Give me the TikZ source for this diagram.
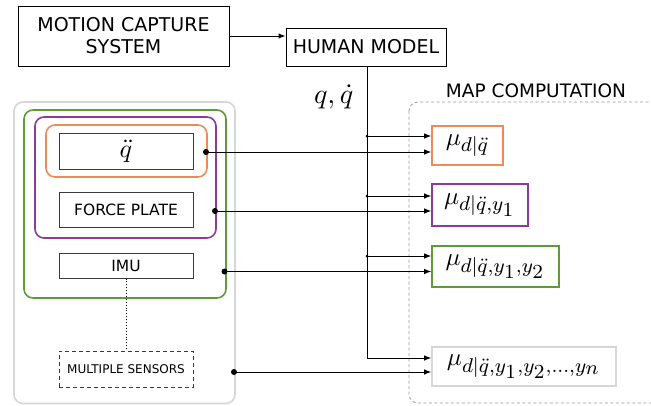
\documentclass[tikz,border=0pt]{standalone}
\usepackage[no-math]{fontspec}
\setmainfont{DejaVu Sans}
\usetikzlibrary{arrows.meta}
% sub- and superscripts of the estimate labels stay at 8pt
\DeclareMathSizes{10}{10}{8}{8}

\newcommand{\mulabel}[1]{\scalebox{2.5}{$#1$}}

\definecolor{cOrange}{HTML}{EE8A55}
\definecolor{cPurple}{HTML}{8C3A9B}
\definecolor{cGreen}{HTML}{5E9A35}
\definecolor{cGrey}{HTML}{D6D6D6}
\definecolor{cEdge}{HTML}{3A3A3A}
\definecolor{cDash}{HTML}{9A9A9A}

\tikzset{
  block/.style={draw=black, line width=1pt, inner sep=0pt, align=center,
                font=\fontsize{19}{22}\selectfont},
  sensor/.style={draw=cEdge, line width=1pt, inner sep=0pt, align=center,
                 minimum width=134pt, font=\fontsize{15.5}{18}\selectfont},
  group/.style={rounded corners=9pt, line width=1.6pt, inner sep=0pt},
  mubox/.style={draw, line width=1.6pt, inner sep=0pt,
                font=\fontsize{10}{12}\selectfont},
  tip/.style={-{Latex[length=7pt,width=5.5pt]}, line width=1pt},
  bigdot/.style={circle, fill=black, inner sep=0pt, minimum size=6pt},
  smalldot/.style={circle, fill=black, inner sep=0pt, minimum size=3pt},
}

\begin{document}
\begin{tikzpicture}[x=1pt, y=-1pt]
\useasboundingbox (0,0) rectangle (651,405);

% top row
\node[block, minimum width=211pt, minimum height=60pt] (mocap) at (123.5,36)
  {MOTION CAPTURE\\SYSTEM};
\node[block, minimum width=160pt, minimum height=38pt] (human) at (366,47)
  {HUMAN MODEL};
\draw[tip] (mocap.east) -- (mocap.east -| human.west);

% sensor groups (outermost first)
\draw[group, draw=cGrey] (14,102) rectangle (235,403.5);
\draw[group, draw=cGreen] (24,110) rectangle (226,298);
\draw[group, draw=cPurple] (35,117) rectangle (216,238);
\draw[group, draw=cOrange] (46,125) rectangle (207,177);

% sensors
\node[sensor, minimum height=36pt, font=\fontsize{10}{12}\selectfont] (qdd) at (126,151)
  {\scalebox{2.6}{$\ddot q$}};
\node[sensor, minimum height=35pt] (fp) at (126,209.5) {FORCE PLATE};
\node[sensor, minimum height=25pt] (imu) at (126,265.5) {IMU};
\node[sensor, minimum height=36pt, dashed, dash pattern=on 4pt off 3pt,
      font=\fontsize{12}{14}\selectfont] (ms) at (126,369) {MULTIPLE SENSORS};
\draw[dotted, line width=0.9pt] (imu.south) -- (ms.north);

% group outputs
\node[bigdot] (dOrange) at (206,152) {};
\node[bigdot] (dPurple) at (215,211) {};
\node[bigdot] (dGreen) at (224.5,271.5) {};
\node[bigdot] (dGrey) at (234,372) {};

% MAP computation area
\draw[cDash, line width=0.8pt, dash pattern=on 3pt off 2.5pt, rounded corners=9pt]
  (409,102) rectangle (670,403);
\node[font=\fontsize{18.5}{21}\selectfont, anchor=base] (maplabel) at (536,97.5)
  {MAP COMPUTATION};

% estimates
\node[mubox, draw=cOrange, minimum width=71pt, minimum height=39pt] (mu1) at (467.5,145.5)
  {\mulabel{\mu_{d|\ddot q}}};
\node[mubox, draw=cPurple, minimum width=96pt, minimum height=42pt] (mu2) at (480,205)
  {\mulabel{\mu_{d|\ddot q,y_1}}};
\node[mubox, draw=cGreen, minimum width=127pt, minimum height=41pt] (mu3) at (495.5,266.5)
  {\mulabel{\mu_{d|\ddot q,y_1,y_2}}};
\node[mubox, draw=cGrey, minimum width=184pt, minimum height=39pt] (mu4) at (524,366.5)
  {\mulabel{\mu_{d|\ddot q,y_1,y_2,\ldots,y_n}}};

% joint-state bus from the human model
\coordinate (bus) at (367,358);
\node[smalldot] (b1) at (367,136) {};
\node[smalldot] (b2) at (367,196) {};
\node[smalldot] (b3) at (367,256) {};
\draw[line width=1pt] (human.south -| bus) -- (bus);
\draw[tip] (bus) -- (bus -| mu4.west);
\draw[tip] (b1.center) -- (b1 -| mu1.west);
\draw[tip] (b2.center) -- (b2 -| mu2.west);
\draw[tip] (b3.center) -- (b3 -| mu3.west);
\node[font=\fontsize{10}{12}\selectfont, anchor=base east] (qlabel) at (357,103)
  {\scalebox{2.8}{$q,\dot q$}};

% sensor-group links
\draw[tip] (dOrange.center) -- (dOrange -| mu1.west);
\draw[tip] (dPurple.center) -- (dPurple -| mu2.west);
\draw[tip] (dGreen.center) -- (dGreen -| mu3.west);
\draw[tip] (dGrey.center) -- (dGrey -| mu4.west);
\end{tikzpicture}
\end{document}
